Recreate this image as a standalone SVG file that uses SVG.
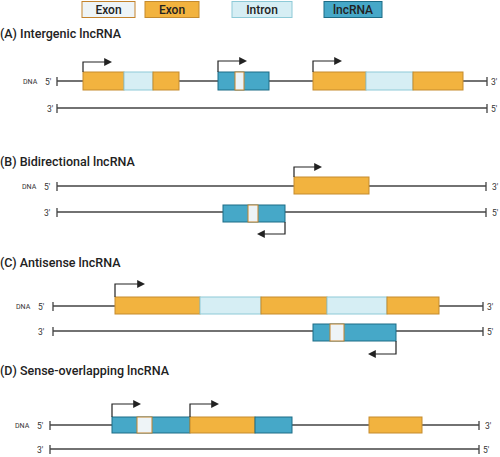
<svg xmlns="http://www.w3.org/2000/svg" width="500" height="457" viewBox="0 0 500 457">
<defs>
<marker id="ah" viewBox="0 0 10 10" refX="1" refY="5" markerWidth="8" markerHeight="8" markerUnits="userSpaceOnUse" orient="auto"><path d="M0,0 L10,5 L0,10 Z" fill="#222"/></marker>
</defs>
<style>
.title{font-family:Roboto,"Liberation Sans",sans-serif;font-size:12.5px;font-weight:500;fill:#222}
.leg{font-family:Roboto,"Liberation Sans",sans-serif;font-size:12px;font-weight:500;fill:#222;text-anchor:middle}
.lab{font-family:Roboto,"Liberation Sans",sans-serif;font-size:8.5px;fill:#333}
.dna{font-family:Roboto,"Liberation Sans",sans-serif;font-size:7px;fill:#333}
.line{stroke:#444;stroke-width:1.3;fill:none}
.ex{fill:#F2B33F;stroke:#C58B2E;stroke-width:1}
.wx{fill:#EEF4F7;stroke:#C4832C;stroke-width:1}
.in{fill:#D6EEF4;stroke:#8ECAD7;stroke-width:1}
.lnc{fill:#46A8C8;stroke:#1C6C86;stroke-width:1}
.arr{stroke:#222;stroke-width:1.2;fill:none}
</style>
<g id="legend">
<rect class="wx" x="82" y="1.5" width="53" height="16"/><text class="leg" x="108.5" y="14">Exon</text>
<rect class="ex" x="145" y="1.5" width="54" height="16"/><text class="leg" x="172" y="14">Exon</text>
<rect class="in" x="232" y="1.5" width="60" height="16"/><text class="leg" x="262" y="14">Intron</text>
<rect class="lnc" x="324" y="1.5" width="58" height="16"/><text class="leg" x="353" y="14">lncRNA</text>
</g>
<g id="connectors">
<path class="line" d="M57,81 H487 M57,77 V86 M487,77 V86"/>
<path class="line" d="M57,108 H487 M57,104 V113 M487,104 V113"/>
<path class="line" d="M57,186 H486 M57,182 V191 M486,182 V191"/>
<path class="line" d="M57,212 H486 M57,208 V217 M486,208 V217"/>
<path class="line" d="M53,306 H483 M53,302 V311 M483,302 V311"/>
<path class="line" d="M53,331 H483 M53,327 V336 M483,327 V336"/>
<path class="line" d="M50,425 H479 M50,421 V430 M479,421 V430"/>
<path class="line" d="M50,449 H479 M50,445 V454 M479,445 V454"/>
</g>
<g id="sectionA">
<text class="title" x="0" y="38">(A) Intergenic lncRNA</text>
<text class="dna" x="23" y="84">DNA</text><text class="lab" x="45" y="84.5">5'</text><text class="lab" x="491" y="84.5">3'</text>
<text class="lab" x="47" y="111.5">3'</text><text class="lab" x="491" y="111.5">5'</text>
<rect class="ex" x="83" y="72" width="41" height="18"/>
<rect class="in" x="124" y="72" width="29" height="18"/>
<rect class="ex" x="153" y="72" width="26" height="18"/>
<rect class="lnc" x="218" y="72" width="51" height="18"/>
<rect class="wx" x="235" y="72" width="9" height="18"/>
<rect class="ex" x="313" y="72" width="53" height="18"/>
<rect class="in" x="366" y="72" width="47" height="18"/>
<rect class="ex" x="413" y="72" width="50" height="18"/>
<path class="arr" d="M83,72 V62 H105" marker-end="url(#ah)"/>
<path class="arr" d="M218,72 V61 H240" marker-end="url(#ah)"/>
<path class="arr" d="M313,72 V61 H335" marker-end="url(#ah)"/>
</g>
<g id="sectionB">
<text class="title" x="0" y="166">(B) Bidirectional lncRNA</text>
<text class="dna" x="22" y="189">DNA</text><text class="lab" x="44" y="189.5">5'</text><text class="lab" x="492" y="189.5">3'</text>
<text class="lab" x="44" y="215.5">3'</text><text class="lab" x="492" y="215.5">5'</text>
<rect class="ex" x="294" y="177" width="75" height="17"/>
<path class="arr" d="M294,177 V167 H315" marker-end="url(#ah)"/>
<rect class="lnc" x="223" y="205" width="62" height="17"/>
<rect class="wx" x="248" y="205" width="10" height="17"/>
<path class="arr" d="M285,222 V234 H264" marker-end="url(#ah)"/>
</g>
<g id="sectionC">
<text class="title" x="0" y="267">(C) Antisense lncRNA</text>
<text class="dna" x="16" y="309">DNA</text><text class="lab" x="38" y="309.5">5'</text><text class="lab" x="487" y="309.5">3'</text>
<text class="lab" x="38" y="334.5">3'</text><text class="lab" x="487" y="334.5">5'</text>
<rect class="ex" x="115" y="297" width="85" height="17"/>
<rect class="in" x="200" y="297" width="61" height="17"/>
<rect class="ex" x="261" y="297" width="66" height="17"/>
<rect class="in" x="327" y="297" width="60" height="17"/>
<rect class="ex" x="387" y="297" width="52" height="17"/>
<path class="arr" d="M115,297 V284 H138" marker-end="url(#ah)"/>
<rect class="lnc" x="313" y="324" width="83" height="17"/>
<rect class="wx" x="330" y="324" width="14" height="17"/>
<path class="arr" d="M396,341 V354 H375" marker-end="url(#ah)"/>
</g>
<g id="sectionD">
<text class="title" x="0" y="375">(D) Sense-overlapping lncRNA</text>
<text class="dna" x="15" y="428">DNA</text><text class="lab" x="37" y="428.5">5'</text><text class="lab" x="485" y="428.5">3'</text>
<text class="lab" x="37" y="452.5">3'</text><text class="lab" x="483" y="452.5">5'</text>
<rect class="lnc" x="112" y="417" width="78" height="16"/>
<rect class="wx" x="137" y="417" width="15" height="16"/>
<rect class="ex" x="190" y="417" width="65" height="16"/>
<rect class="lnc" x="255" y="417" width="37" height="16"/>
<rect class="ex" x="369" y="417" width="53" height="16"/>
<path class="arr" d="M112,417 V404 H134" marker-end="url(#ah)"/>
<path class="arr" d="M190,417 V404 H212" marker-end="url(#ah)"/>
</g>
</svg>
